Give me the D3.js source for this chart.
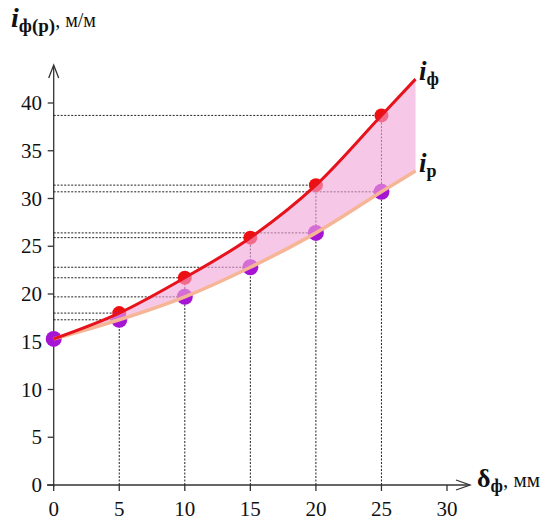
<!DOCTYPE html>
<html><head><meta charset="utf-8">
<script src="https://cdn.jsdelivr.net/npm/d3@7/dist/d3.min.js"></script>
<style>body{margin:0;background:#fff}svg{display:block}</style>
</head><body><svg id="c" width="550" height="523"></svg>
<script>
const xTicks = [0,5,10,15,20,25,30];
const yTicks = [0,5,10,15,20,25,30,35,40];
const delta = [0,5,10,15,20,25];
const iF = [15.3,18.0,21.7,25.9,31.4,38.7];
const iR = [15.3,17.3,19.7,22.8,26.4,30.7];
const endDelta = 27.6;
const iFEnd = 42.5;
const iREnd = 32.9;

const FONT = "'Liberation Serif', 'Times New Roman', serif";
const svg = d3.select("#c");
const x = d3.scaleLinear().domain([0,30]).range([53.7,447]);
const y = d3.scaleLinear().domain([0,40]).range([485,103]);

const fPts = delta.map((d,i)=>[d,iF[i]]).concat([[endDelta,iFEnd]]);
const rPts = delta.map((d,i)=>[d,iR[i]]).concat([[endDelta,iREnd]]);

// axes
const ax = svg.append("g").attr("stroke","#333").attr("stroke-width",1.3).attr("fill","none");
ax.append("line").attr("x1",x(0)).attr("x2",x(0)).attr("y1",y(0)+2).attr("y2",66);
ax.append("path").attr("d",`M${x(0)-5},${78} L${x(0)},${65} L${x(0)+5},${78}`);
ax.append("line").attr("x1",47).attr("x2",470).attr("y1",y(0)).attr("y2",y(0));
ax.append("path").attr("d",`M${456},${y(0)-5} L${470},${y(0)} L${456},${y(0)+5}`);

yTicks.forEach(t=>{
  ax.append("line").attr("x1",x(0)-6).attr("x2",x(0)).attr("y1",y(t)).attr("y2",y(t));
  svg.append("text").attr("x",42).attr("y",y(t)+7).attr("text-anchor","end")
    .style("font-family",FONT).attr("font-size",21).attr("fill","#111").text(t);
});
xTicks.forEach(t=>{
  ax.append("line").attr("x1",x(t)).attr("x2",x(t)).attr("y1",y(0)).attr("y2",y(0)+6);
  svg.append("text").attr("x",x(t)).attr("y",y(0)+31).attr("text-anchor","middle")
    .style("font-family",FONT).attr("font-size",21).attr("fill","#111").text(t);
});

// dotted guide lines
const g = svg.append("g").attr("stroke","#222").attr("stroke-width",1).attr("stroke-dasharray","2,1.5");
delta.forEach((d,i)=>{
  if(d>0){
    g.append("line").attr("x1",x(d)).attr("x2",x(d)).attr("y1",y(0)).attr("y2",y(iF[i]));
    g.append("line").attr("x1",x(0)).attr("x2",x(d)).attr("y1",y(iF[i])).attr("y2",y(iF[i]));
    g.append("line").attr("x1",x(0)).attr("x2",x(d)).attr("y1",y(iR[i])).attr("y2",y(iR[i]));
  }
});

// dots
delta.forEach((d,i)=>{
  if(d>0) svg.append("circle").attr("cx",x(d)).attr("cy",y(iF[i])).attr("r",7).attr("fill","#ee1010");
});
delta.forEach((d,i)=>{
  svg.append("circle").attr("cx",x(d)).attr("cy",y(iR[i])).attr("r",8).attr("fill","#a614d4");
});

// area between curves
const curve = d3.curveMonotoneX;
const area = d3.area().curve(curve)
  .x(p=>x(p[0])).y0((p,i)=>y(rPts[i][1])).y1(p=>y(p[1]));
svg.append("path").datum(fPts).attr("d",area).attr("fill","rgb(242,164,216)").attr("fill-opacity",0.62);

const line = d3.line().curve(curve).x(p=>x(p[0])).y(p=>y(p[1]));
svg.append("path").datum(rPts).attr("d",line).attr("fill","none").attr("stroke","#f6b696").attr("stroke-width",3.5);
svg.append("path").datum(fPts).attr("d",line).attr("fill","none").attr("stroke","#e6121c").attr("stroke-width",3);

// labels
function lbl(xp,yp,main,sub,rest,ms,ss,rs,italic){
  const t = svg.append("text").attr("x",xp).attr("y",yp).style("font-family",FONT).attr("fill","#111");
  t.append("tspan").attr("font-weight","bold").attr("font-style",italic?"italic":"normal").attr("font-size",ms).text(main);
  t.append("tspan").attr("font-weight","bold").attr("font-size",ss).attr("dy",5).text(sub);
  if(rest) t.append("tspan").attr("font-size",rs).attr("dy",-5).text(rest);
}
lbl(11,27,"i","ф(р)",", м/м",28,19,20,true);
lbl(477,487,"δ","ф",", мм",26,18,21,false);
lbl(419,80,"i","ф",null,27,18,0,true);
lbl(419,172,"i","р",null,27,18,0,true);
</script></body></html>
